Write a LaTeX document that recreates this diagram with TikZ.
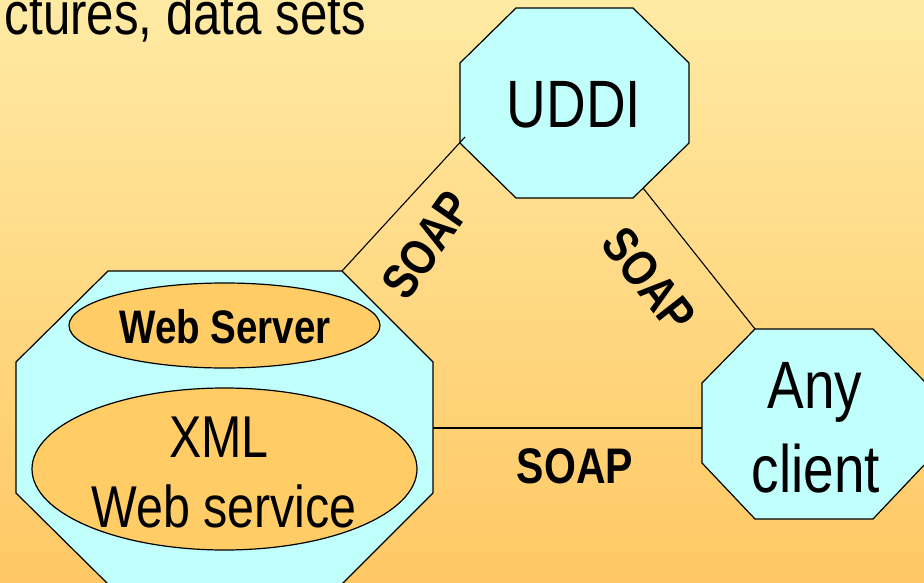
\documentclass[tikz,border=0pt]{standalone}
\usepackage{fontspec}
\setmainfont{Liberation Sans}[FakeStretch=0.82]
\usetikzlibrary{shapes.geometric}
\definecolor{bgtop}{HTML}{FFEAA4}
\definecolor{bgbot}{HTML}{FFC864}
\definecolor{boxcyan}{HTML}{C0FFFC}
\definecolor{ovalorange}{HTML}{FFCC66}
\tikzset{
  octa/.style={fill=boxcyan, draw=black, line width=1.2pt, line join=miter},
  oval/.style={ellipse, fill=ovalorange, draw=black, line width=1.2pt, inner sep=0pt},
  wire/.style={draw=black, line width=1.1pt},
  label/.style={inner sep=0pt, anchor=base, text=black},
  soap/.style={inner sep=0pt, font=\bfseries\fontsize{50}{54}\selectfont}
}
\begin{document}
\begin{tikzpicture}[x=1pt,y=-1pt]
  \useasboundingbox (0,0) rectangle (924,583);
  \clip (0,0) rectangle (924,583);
  \shade[top color=bgtop, bottom color=bgbot] (0,0) rectangle (924,583);

  % heading fragment
  \node[label, anchor=base east, font=\fontsize{60}{64}\selectfont] (head) at (366,35) {ctures, data sets};

  % corner points of the three octagons
  \coordinate (u1) at (516,8);   \coordinate (u2) at (633,8);
  \coordinate (u3) at (689,63);  \coordinate (u4) at (689,143);
  \coordinate (u5) at (633,198); \coordinate (u6) at (516,198);
  \coordinate (u7) at (460,143); \coordinate (u8) at (460,63);

  \coordinate (w1) at (108,271); \coordinate (w2) at (342,271);
  \coordinate (w3) at (433,362); \coordinate (w4) at (433,493);
  \coordinate (w5) at (342,584); \coordinate (w6) at (108,584);
  \coordinate (w7) at (16,493);  \coordinate (w8) at (16,362);

  \coordinate (c1) at (755,329); \coordinate (c2) at (873,329);
  \coordinate (c3) at (926,383); \coordinate (c4) at (926,463);
  \coordinate (c5) at (873,519); \coordinate (c6) at (755,519);
  \coordinate (c7) at (702,463); \coordinate (c8) at (702,383);

  \path[octa] (u1)--(u2)--(u3)--(u4)--(u5)--(u6)--(u7)--(u8)--cycle;
  \path[octa] (w1)--(w2)--(w3)--(w4)--(w5)--(w6)--(w7)--(w8)--cycle;
  \path[octa] (c1)--(c2)--(c3)--(c4)--(c5)--(c6)--(c7)--(c8)--cycle;

  % connector ends
  \coordinate (uddiSW) at (465,137);
  \coordinate (uddiSE) at (643,188);
  \coordinate (webE) at (433,428);
  \coordinate (cliW) at (702,428);

  \draw[wire] (w2) -- (uddiSW);
  \draw[wire] (uddiSE) -- (c1);
  \draw[wire] (webE) -- (cliW);

  % inner ovals
  \node[oval, minimum width=311pt, minimum height=85pt] (server) at (224.5,325.5) {};
  \node[oval, minimum width=385pt, minimum height=162pt] (xml) at (224.5,469) {};

  % texts
  \node[label, font=\fontsize{67}{70}\selectfont] (uddi) at (574,128) {UDDI};
  \node[label, font=\fontsize{67}{70}\selectfont] (any) at (815,408) {Any};
  \node[label, font=\fontsize{67}{70}\selectfont] (client) at (816,492) {client};
  \node[label, font=\bfseries\fontsize{47}{50}\selectfont] (srvtxt) at (225,343) {Web Server};
  \node[label, font=\fontsize{59}{62}\selectfont] (xmltxt) at (219,457) {XML};
  \node[label, font=\fontsize{59}{62}\selectfont] (wstxt) at (224,527) {Web service};

  \node[soap, rotate=55] (soapL) at (427,245) {SOAP};
  \node[soap, rotate=-52] (soapR) at (649,280) {SOAP};
  \node[label, font=\bfseries\fontsize{50}{54}\selectfont] (soapB) at (575,483) {SOAP};
\end{tikzpicture}
\end{document}
